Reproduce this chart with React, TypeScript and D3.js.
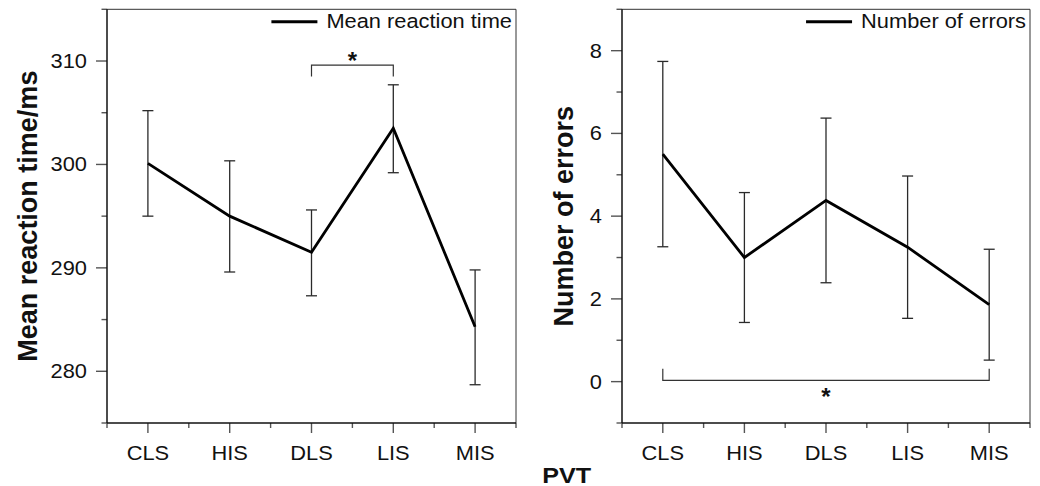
import { useRef, useEffect } from "react";
import * as d3 from "d3";

// ── Data ──────────────────────────────────────────────────────────────────────

const categories = ["CLS", "HIS", "DLS", "LIS", "MIS"];

const rtMean = [300.1, 295.0, 291.5, 303.5, 284.3];
const rtLow = [295.0, 289.6, 287.3, 299.2, 278.7];
const rtHigh = [305.2, 300.35, 295.6, 307.7, 289.8];
const rtTicks = [280, 290, 300, 310];

const errMean = [5.5, 3.0, 4.38, 3.25, 1.86];
const errLow = [3.26, 1.43, 2.39, 1.53, 0.52];
const errHigh = [7.74, 4.57, 6.37, 4.97, 3.2];
const errTicks = [0, 2, 4, 6, 8];

// significance brackets: [from category, to category, bar value, leg end value, star value]
const rtSig: [string, string, number, number, number] = ["DLS", "LIS", 309.6, 308.5, 310.5];
const errSig: [string, string, number, number, number] = ["CLS", "MIS", 0.03, 0.31, -0.24];

// ── Constants ─────────────────────────────────────────────────────────────────

const W = 1040;
const H = 486;
const FONT = "'Liberation Sans', Arial, Helvetica, sans-serif";
const FS = 19.5;
const SX = 1.12; // horizontal stretch of the original raster
const TOP = 9.3;
const BOTTOM = 423;

interface Panel {
  left: number;
  right: number;
  domain: [number, number];
  majors: number[];
  minorStep: number;
  mean: number[];
  low: number[];
  high: number[];
  title: string;
  titleX: number;
  legend: string;
  sig: [string, string, number, number, number];
}

const panels: Panel[] = [
  {
    left: 107,
    right: 516,
    domain: [275, 315],
    majors: rtTicks,
    minorStep: 10,
    mean: rtMean,
    low: rtLow,
    high: rtHigh,
    title: "Mean reaction time/ms",
    titleX: 37,
    legend: "Mean reaction time",
    sig: rtSig,
  },
  {
    left: 622,
    right: 1030,
    domain: [-1, 9],
    majors: errTicks,
    minorStep: 2,
    mean: errMean,
    low: errLow,
    high: errHigh,
    title: "Number of errors",
    titleX: 573,
    legend: "Number of errors",
    sig: errSig,
  },
];

// ── Drawing ───────────────────────────────────────────────────────────────────

function stretchedText(
  g: d3.Selection<SVGGElement, unknown, null, undefined>,
  x: number,
  y: number,
  txt: string,
  anchor: string,
  size = FS,
  weight = "normal",
  sx = SX
) {
  return g
    .append("text")
    .attr("transform", `translate(${x},${y}) scale(${sx},1)`)
    .attr("text-anchor", anchor)
    .attr("font-family", FONT)
    .attr("font-size", size)
    .attr("font-weight", weight)
    .attr("fill", "#111")
    .text(txt);
}

function drawPanel(root: d3.Selection<SVGSVGElement, unknown, null, undefined>, p: Panel) {
  const g = root.append("g");
  const x = d3.scaleLinear().domain([0.5, categories.length + 0.5]).range([p.left, p.right]);
  const y = d3.scaleLinear().domain(p.domain).range([BOTTOM, TOP]);
  const idx = (c: string) => categories.indexOf(c) + 1;

  // minor ticks (y): between majors plus domain ends
  const yMinor: number[] = [];
  for (let v = p.domain[0]; v <= p.domain[1] + 1e-9; v += p.minorStep / 2) {
    if (!p.majors.some((m) => Math.abs(m - v) < 1e-9)) yMinor.push(v);
  }
  g.selectAll(".ymin")
    .data(yMinor)
    .join("line")
    .attr("x1", p.left - 5.5)
    .attr("x2", p.left)
    .attr("y1", (d) => y(d))
    .attr("y2", (d) => y(d))
    .attr("stroke", "#555")
    .attr("stroke-width", 1.4);
  g.selectAll(".ymaj")
    .data(p.majors)
    .join("line")
    .attr("x1", p.left - 11)
    .attr("x2", p.left)
    .attr("y1", (d) => y(d))
    .attr("y2", (d) => y(d))
    .attr("stroke", "#555")
    .attr("stroke-width", 1.4);
  p.majors.forEach((v) => stretchedText(g, p.left - 20, y(v) + 7, String(v), "end"));

  // x ticks
  const xMinor = d3.range(0, categories.length + 1).map((i) => i + 0.5);
  g.selectAll(".xmin")
    .data(xMinor)
    .join("line")
    .attr("x1", (d) => x(d))
    .attr("x2", (d) => x(d))
    .attr("y1", BOTTOM)
    .attr("y2", BOTTOM + 5)
    .attr("stroke", "#555")
    .attr("stroke-width", 1.4);
  g.selectAll(".xmaj")
    .data(categories)
    .join("line")
    .attr("x1", (_, i) => x(i + 1))
    .attr("x2", (_, i) => x(i + 1))
    .attr("y1", BOTTOM)
    .attr("y2", BOTTOM + 10)
    .attr("stroke", "#555")
    .attr("stroke-width", 1.4);
  categories.forEach((c, i) => stretchedText(g, x(i + 1), 460, c, "middle"));

  // frame
  g.append("line")
    .attr("x1", p.left)
    .attr("x2", p.right)
    .attr("y1", TOP)
    .attr("y2", TOP)
    .attr("stroke", "#333")
    .attr("stroke-width", 1);
  g.append("line")
    .attr("x1", p.right)
    .attr("x2", p.right)
    .attr("y1", TOP)
    .attr("y2", BOTTOM)
    .attr("stroke", "#333")
    .attr("stroke-width", 1);
  g.append("line")
    .attr("x1", p.left)
    .attr("x2", p.left)
    .attr("y1", TOP)
    .attr("y2", BOTTOM)
    .attr("stroke", "#111")
    .attr("stroke-width", 1.5);
  g.append("line")
    .attr("x1", p.left)
    .attr("x2", p.right)
    .attr("y1", BOTTOM)
    .attr("y2", BOTTOM)
    .attr("stroke", "#111")
    .attr("stroke-width", 1.5);

  // error bars
  const cap = 5.5;
  categories.forEach((_, i) => {
    const cx = x(i + 1);
    const eb = g.append("g").attr("stroke", "#2a2a2a").attr("stroke-width", 1.3);
    eb.append("line").attr("x1", cx).attr("x2", cx).attr("y1", y(p.low[i])).attr("y2", y(p.high[i]));
    eb.append("line").attr("x1", cx - cap).attr("x2", cx + cap).attr("y1", y(p.low[i])).attr("y2", y(p.low[i]));
    eb.append("line").attr("x1", cx - cap).attr("x2", cx + cap).attr("y1", y(p.high[i])).attr("y2", y(p.high[i]));
  });

  // mean line
  const line = d3
    .line<number>()
    .x((_, i) => x(i + 1))
    .y((d) => y(d));
  g.append("path")
    .attr("d", line(p.mean))
    .attr("fill", "none")
    .attr("stroke", "#000")
    .attr("stroke-width", 2.8)
    .attr("stroke-linejoin", "miter");

  // significance bracket
  const [a, b, bar, leg, star] = p.sig;
  const xa = x(idx(a));
  const xb = x(idx(b));
  g.append("path")
    .attr("d", `M${xa},${y(leg)}V${y(bar)}H${xb}V${y(leg)}`)
    .attr("fill", "none")
    .attr("stroke", "#333")
    .attr("stroke-width", 1.2);
  g.append("text")
    .attr("x", (xa + xb) / 2)
    .attr("y", y(star) + 13)
    .attr("text-anchor", "middle")
    .attr("font-family", FONT)
    .attr("font-size", 24)
    .attr("font-weight", "bold")
    .attr("fill", "#111")
    .text("*");

  // legend
  const lt = stretchedText(g, p.right - 4, 28.3, p.legend, "end");
  const tw = (lt.node() as SVGTextElement).getComputedTextLength() * SX;
  const lx2 = p.right - 4 - tw - 9;
  g.append("line")
    .attr("x1", lx2 - 46)
    .attr("x2", lx2)
    .attr("y1", 21.7)
    .attr("y2", 21.7)
    .attr("stroke", "#000")
    .attr("stroke-width", 3);

  // y title
  g.append("text")
    .attr("transform", `translate(${p.titleX},${(TOP + BOTTOM) / 2}) rotate(-90)`)
    .attr("text-anchor", "middle")
    .attr("font-family", FONT)
    .attr("font-size", 27)
    .attr("font-weight", "bold")
    .attr("fill", "#111")
    .text(p.title);
}

function renderChart(svg: SVGSVGElement) {
  const root = d3.select(svg);
  root.selectAll("*").remove();
  root.append("rect").attr("width", W).attr("height", H).attr("fill", "#fff");
  panels.forEach((p) => drawPanel(root, p));
  const g = root.append("g");
  stretchedText(g, 566.7, 482.5, "PVT", "middle", 21.5, "bold", 1.17);
}

// ── Component ─────────────────────────────────────────────────────────────────

export default function App() {
  const svgRef = useRef<SVGSVGElement>(null);

  useEffect(() => {
    if (svgRef.current) renderChart(svgRef.current);
  }, []);

  return (
    <svg
      ref={svgRef}
      width={W}
      height={H}
      viewBox={`0 0 ${W} ${H}`}
      style={{ position: "absolute", left: 0, top: 0, display: "block" }}
    />
  );
}
